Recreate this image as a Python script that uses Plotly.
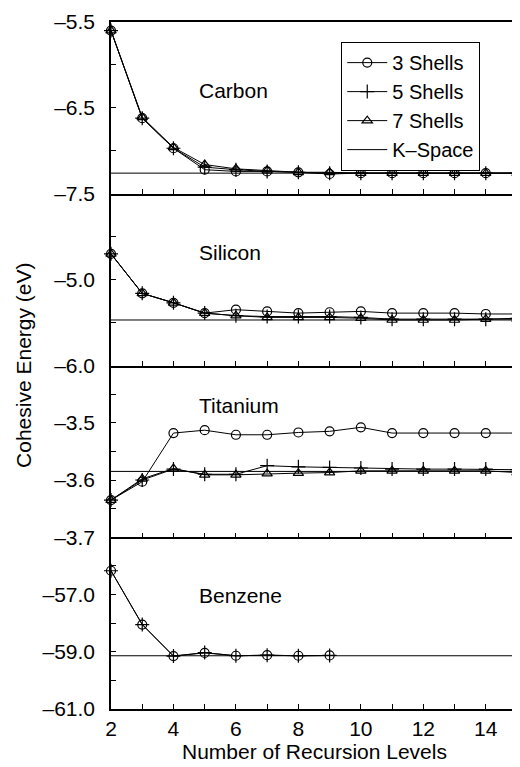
import plotly.graph_objects as go
from plotly.subplots import make_subplots

levels = list(range(2, 16))
benzene_levels = list(range(2, 10))

carbon_3 = [-5.60, -6.62, -6.97, -7.22, -7.24, -7.24, -7.25, -7.27, -7.26, -7.26, -7.26, -7.26, -7.26, -7.26]
carbon_5 = [-5.60, -6.62, -6.97, -7.19, -7.22, -7.24, -7.25, -7.26, -7.26, -7.26, -7.26, -7.26, -7.26, -7.26]
carbon_7 = [-5.60, -6.61, -6.96, -7.16, -7.21, -7.23, -7.25, -7.25, -7.26, -7.26, -7.26, -7.26, -7.26, -7.26]
carbon_k = -7.26

silicon_3 = [-4.70, -5.16, -5.27, -5.39, -5.35, -5.37, -5.39, -5.38, -5.37, -5.39, -5.39, -5.39, -5.40, -5.40]
silicon_5 = [-4.70, -5.16, -5.27, -5.39, -5.42, -5.43, -5.43, -5.43, -5.44, -5.46, -5.46, -5.46, -5.46, -5.45]
silicon_7 = [-4.70, -5.16, -5.27, -5.39, -5.42, -5.44, -5.44, -5.44, -5.45, -5.47, -5.47, -5.47, -5.46, -5.46]
silicon_k = -5.47

titanium_3 = [-3.635, -3.603, -3.518, -3.513, -3.521, -3.521, -3.517, -3.515, -3.508, -3.518, -3.518, -3.518, -3.518, -3.518]
titanium_5 = [-3.635, -3.600, -3.581, -3.590, -3.590, -3.575, -3.577, -3.578, -3.579, -3.581, -3.581, -3.581, -3.581, -3.582]
titanium_7 = [-3.635, -3.598, -3.580, -3.591, -3.591, -3.589, -3.588, -3.587, -3.584, -3.584, -3.584, -3.584, -3.584, -3.587]
titanium_k = -3.585

benzene_3 = [-56.17, -58.05, -59.15, -59.04, -59.14, -59.12, -59.14, -59.13]
benzene_5 = [-56.17, -58.05, -59.15, -59.03, -59.14, -59.12, -59.14, -59.13]
benzene_k = -59.14

panel_names = ["Carbon", "Silicon", "Titanium", "Benzene"]
series_names = ["3 Shells", "5 Shells", "7 Shells", "K\u2013Space"]

carbon_ticks = [-7.5, -7.0, -6.5, -6.0, -5.5]
carbon_text = ["\u20137.5", "", "\u20136.5", "", "\u20135.5"]
silicon_ticks = [-6.0, -5.5, -5.0, -4.5, -4.0]
silicon_text = ["\u20136.0", "", "\u20135.0", "", ""]
titanium_ticks = [-3.70, -3.65, -3.60, -3.55, -3.50, -3.45, -3.40]
titanium_text = ["\u20133.7", "", "\u20133.6", "", "\u20133.5", "", ""]
benzene_ticks = [-61, -60, -59, -58, -57, -56, -55]
benzene_text = ["\u201361.0", "", "\u201359.0", "", "\u201357.0", "", ""]
x_ticks = list(range(2, 16))
x_text = [str(v) if v % 2 == 0 else "" for v in x_ticks]

FONT = "Liberation Sans, Arial, Helvetica, sans-serif"
FS = 21

fig = make_subplots(rows=4, cols=1, shared_xaxes=True, vertical_spacing=0)

marker_styles = [
    dict(symbol="circle-open", size=9, color="black", line=dict(width=1.2, color="black")),
    dict(symbol="cross-thin-open", size=10, color="black", line=dict(width=1.2, color="black")),
    dict(symbol="triangle-up-open", size=9, color="black", line=dict(width=1.2, color="black")),
]

panels = [
    (levels, [carbon_3, carbon_5, carbon_7], carbon_k),
    (levels, [silicon_3, silicon_5, silicon_7], silicon_k),
    (levels, [titanium_3, titanium_5, titanium_7], titanium_k),
    (benzene_levels, [benzene_3, benzene_5], benzene_k),
]

for r, (xs, series, k) in enumerate(panels, start=1):
    for i, ys in enumerate(series):
        fig.add_trace(go.Scatter(
            x=xs, y=ys, mode="lines+markers", name=series_names[i],
            line=dict(color="black", width=1), marker=marker_styles[i],
            cliponaxis=False, showlegend=(r == 1), legendrank=i + 1,
        ), row=r, col=1)
    fig.add_trace(go.Scatter(
        x=[levels[0], levels[-1]], y=[k, k], mode="lines", name=series_names[3],
        line=dict(color="black", width=1), showlegend=(r == 1), legendrank=4,
    ), row=r, col=1)

yranges = [[-7.5, -5.5], [-6.0, -4.0], [-3.7, -3.4], [-61, -55]]
yticks = [(carbon_ticks, carbon_text), (silicon_ticks, silicon_text),
          (titanium_ticks, titanium_text), (benzene_ticks, benzene_text)]

for r in range(1, 5):
    fig.update_yaxes(
        range=yranges[r - 1], tickvals=yticks[r - 1][0], ticktext=yticks[r - 1][1],
        ticks="inside", ticklen=5, tickwidth=1.2, tickcolor="black",
        showline=True, linecolor="black", linewidth=1.5, mirror="ticks",
        ticklabelstandoff=10,
        showgrid=False, zeroline=False, tickfont=dict(family=FONT, size=FS, color="black"),
        row=r, col=1)
    fig.update_xaxes(
        range=[2, 15], tickvals=x_ticks, ticktext=x_text,
        ticks="inside", ticklen=5, tickwidth=1.2, tickcolor="black",
        showline=True, linecolor="black", linewidth=1.5, mirror=(r == 1),
        showgrid=False, zeroline=False, showticklabels=(r == 4),
        tickfont=dict(family=FONT, size=FS, color="black"),
        row=r, col=1)

label_y = [0.901, 0.664, 0.4425, 0.1645]
for name, yy in zip(panel_names, label_y):
    fig.add_annotation(text=name, x=0.213, y=yy, xref="paper", yref="paper",
                       xanchor="left", yanchor="middle", showarrow=False,
                       font=dict(family=FONT, size=FS, color="black"))

fig.add_annotation(text="Cohesive Energy (eV)", x=-0.2157, y=0.5, xref="paper", yref="paper",
                   textangle=-90, xanchor="center", yanchor="middle", showarrow=False,
                   font=dict(family=FONT, size=FS, color="black"))
fig.add_annotation(text="Number of Recursion Levels", x=0.5, y=-0.062, xref="paper", yref="paper",
                   xanchor="center", yanchor="middle", showarrow=False, borderpad=0,
                   font=dict(family=FONT, size=FS, color="black"))

fig.update_layout(
    width=512, height=759,
    margin=dict(l=103, r=1, t=14, b=58),
    paper_bgcolor="white", plot_bgcolor="white",
    font=dict(family=FONT, size=FS, color="black"),
    legend=dict(x=0.909, y=0.971, xanchor="right", yanchor="top",
                bgcolor="white", bordercolor="black", borderwidth=1.2,
                font=dict(family=FONT, size=20, color="black"),
                tracegroupgap=0, itemwidth=40),
)

fig.write_html("out.html")
